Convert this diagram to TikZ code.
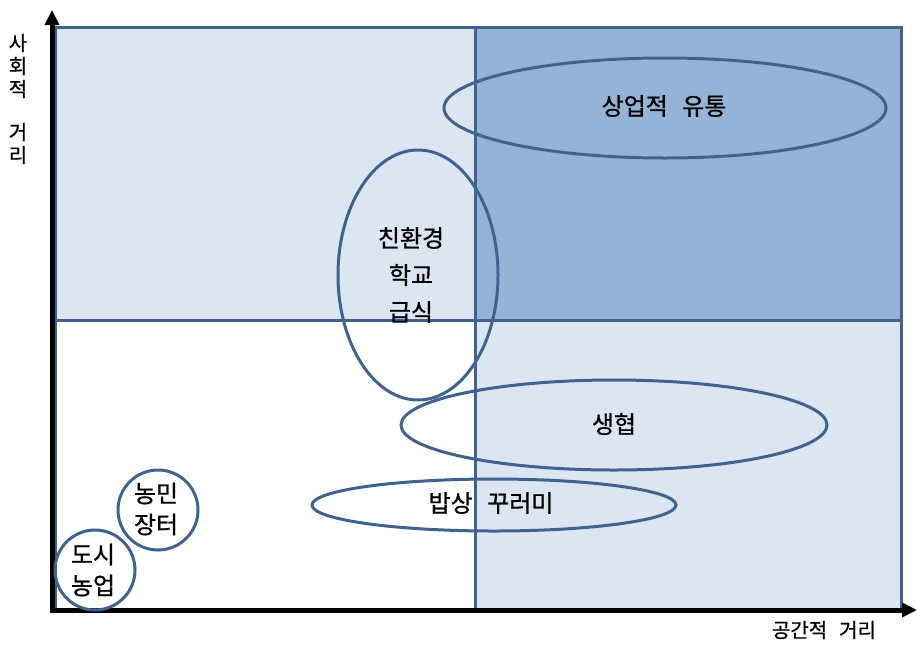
\documentclass[tikz,border=0pt]{standalone}
\usepackage{fontspec}
\setmainfont{Noto Sans CJK KR}
\newfontfamily\lblfont{Noto Sans CJK KR}[FakeBold=0.8]
\usetikzlibrary{arrows.meta,shapes.geometric}
\definecolor{lightq}{HTML}{DCE6F2}
\definecolor{darkq}{HTML}{95B3D7}
\definecolor{edge}{HTML}{3F628F}
\newcommand{\wsp}{\hspace{0.6em}}
\tikzset{
  quad/.style={draw=edge, line width=3pt},
  oval/.style={draw=edge, line width=3pt},
  lbl/.style={font=\lblfont\fontsize{24}{37}\selectfont, align=center, inner sep=0pt},
  lblsm/.style={font=\lblfont\fontsize{24}{31}\selectfont, align=center, inner sep=0pt},
  axlbl/.style={font=\lblfont\fontsize{20}{23}\selectfont, align=center, inner sep=0pt},
  axis/.style={line width=5pt, -{Triangle[length=15pt,width=14pt]}}
}
\begin{document}
\begin{tikzpicture}[x=1pt,y=-1pt]
\useasboundingbox (0,0) rectangle (917,646);
% quadrants
\fill[lightq] (55,27) rectangle (475,320);
\fill[darkq] (475,27) rectangle (901,320);
\fill[lightq] (475,320) rectangle (901,610);
\draw[quad] (55,27) rectangle (901,610);
\draw[quad] (475,27) -- (475,610);
\draw[quad] (55,320) -- (901,320);
% axes
\coordinate (o) at (52,610);
\coordinate (ytop) at (52,10);
\coordinate (xend) at (917,610);
\draw[axis] (o) -- (ytop);
\draw[axis] ([xshift=-2.5pt]o) -- (xend);
% ellipses
\node[oval, ellipse, minimum width=442pt, minimum height=100pt, inner sep=0pt] (com) at (665,108) {};
\node[lbl] (comt) at (664,106) {상업적\wsp 유통};
\node[oval, ellipse, minimum width=160pt, minimum height=250pt, inner sep=0pt] (eco) at (418,275) {};
\node[lbl] (ecot) at (411,275) {친환경\\학교\\급식};
\node[oval, ellipse, minimum width=426pt, minimum height=90pt, inner sep=0pt] (coop) at (614,425) {};
\node[lbl] (coopt) at (614,424) {생협};
\node[oval, ellipse, minimum width=364pt, minimum height=52pt, inner sep=0pt] (bap) at (494,505) {};
\node[lbl] (bapt) at (491,503) {밥상\wsp 꾸러미};
\node[oval, circle, minimum size=80pt, inner sep=0pt] (farm) at (158,510) {};
\node[lblsm] (farmt) at (156,509) {농민\\장터};
\node[oval, circle, minimum size=80pt, inner sep=0pt] (city) at (95,570) {};
\node[lblsm] (cityt) at (93,570) {도시\\농업};
% axis labels
\node[axlbl] (ylab) at (18,99) {사\\회\\적\\[20pt]거\\리};
\node[axlbl] (xlab) at (824,630) {공간적\wsp 거리};
\end{tikzpicture}
\end{document}
